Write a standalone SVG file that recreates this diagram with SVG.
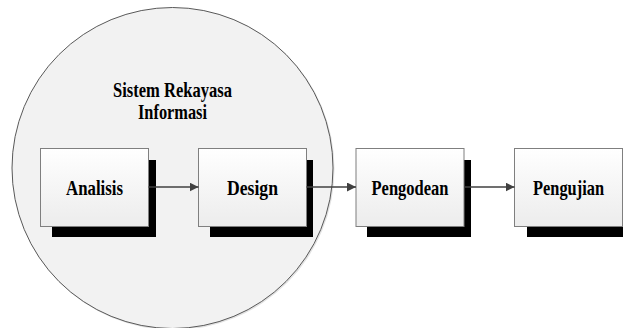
<svg xmlns="http://www.w3.org/2000/svg" width="623" height="328" viewBox="0 0 623 328">
<style>
.box{fill:url(#bg);stroke:#7f7f7f;stroke-width:1}
.sh{fill:#000}
.lbl{font-family:"Liberation Serif","Times New Roman",serif;font-weight:bold;font-size:21px;fill:#000;text-anchor:middle}
.con{stroke:#404040;stroke-width:1.3;fill:none;marker-end:url(#ah)}
</style>
<defs>
<linearGradient id="bg" x1="0" y1="0" x2="0" y2="1">
<stop offset="0" stop-color="#ffffff"/>
<stop offset="1" stop-color="#ececec"/>
</linearGradient>
<marker id="ah" viewBox="0 0 10 10" refX="10" refY="5" markerWidth="9" markerHeight="9" markerUnits="userSpaceOnUse" orient="auto">
<path d="M0,0 L10,5 L0,10 z" fill="#404040"/>
</marker>
</defs>
<rect width="623" height="328" fill="#fff"/>
<g id="circle">
<circle cx="173.5" cy="169" r="161" fill="#e2e2e2"/>
<circle cx="172.5" cy="168" r="160.5" fill="#f2f2f2" stroke="#595959" stroke-width="1"/>
<text class="lbl" x="172.5" y="97" textLength="119" lengthAdjust="spacingAndGlyphs">Sistem Rekayasa</text>
<text class="lbl" x="172.5" y="119" textLength="69" lengthAdjust="spacingAndGlyphs">Informasi</text>
</g>
<g id="analisis">
<rect class="sh" x="52" y="160" width="104" height="77"/>
<rect class="box" x="40.5" y="148.5" width="108" height="78"/>
<text class="lbl" x="94.5" y="195" textLength="57" lengthAdjust="spacingAndGlyphs">Analisis</text>
</g>
<g id="design">
<rect class="sh" x="210" y="160" width="103" height="77"/>
<rect class="box" x="198.5" y="148.5" width="108" height="78"/>
<text class="lbl" x="252.5" y="195" textLength="51" lengthAdjust="spacingAndGlyphs">Design</text>
</g>
<g id="pengodean">
<rect class="sh" x="367" y="160" width="104" height="77"/>
<rect class="box" x="356" y="148.5" width="108" height="78"/>
<text class="lbl" x="410" y="195" textLength="77" lengthAdjust="spacingAndGlyphs">Pengodean</text>
</g>
<g id="pengujian">
<rect class="sh" x="527" y="160" width="104" height="77"/>
<rect class="box" x="514.5" y="148.5" width="108" height="78"/>
<text class="lbl" x="568.5" y="195" textLength="71" lengthAdjust="spacingAndGlyphs">Pengujian</text>
</g>
<g id="connectors">
<line class="con" x1="148.5" y1="187" x2="198.5" y2="187"/>
<line class="con" x1="306.5" y1="187" x2="356" y2="187"/>
<line class="con" x1="464" y1="187" x2="514.5" y2="187"/>
</g>
</svg>
